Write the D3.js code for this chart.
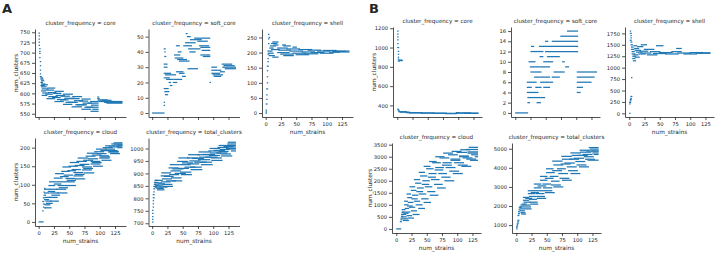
<!DOCTYPE html>
<html>
<head>
<meta charset="utf-8">
<script src="https://cdn.jsdelivr.net/npm/d3@7"></script>
<style>
  body { margin: 0; background: #fff; }
  svg { display: block; }
  text { font-family: "DejaVu Sans", sans-serif; fill: #262626; }
</style>
</head>
<body>
<svg id="chart" width="720" height="254"></svg>
<script>
// === Data: each run is [firstStrain, lastStrain, num_clusters] ===
const xTicks = [0, 25, 50, 75, 100, 125];

// --- Panel A ---
const aCoreTicks = [550, 575, 600, 625, 650, 675, 700, 725, 750];
const aCoreRuns = [
  [1,1,748],[1,1,741],[1,1,733],[1,1,726],[1,1,718],[2,2,710],[2,2,703],[2,2,698],[2,2,688],
  [3,3,678],[3,3,668],[3,3,657],[3,3,648],[3,4,641],[4,6,638],[4,7,635],[5,8,631],[4,6,627],[5,10,623],[4,9,619],
  [6,14,621],[15,26,613],[27,40,605],[41,55,598],[56,70,592],[71,84,586],[85,97,580],
  [5,12,616],[13,24,608],[25,36,600],[37,50,593],[51,66,587],[67,80,581],[81,97,576],
  [6,15,611],[16,28,602],[29,42,595],[43,58,588],[59,72,582],[73,86,576],[87,97,571],
  [5,11,606],[12,22,598],[23,35,590],[36,48,584],[49,63,578],[64,78,572],[79,97,566],
  [7,16,601],[17,30,592],[31,44,585],[45,60,578],[61,75,572],[76,88,566],[89,97,561],
  [6,13,595],[14,26,587],[27,40,580],[41,54,573],[55,70,567],[71,85,561],[86,97,556],
  [97,98,591],[97,99,587],[98,112,584],[98,108,581],[100,122,580],[108,136,578],[112,136,576],[104,118,583],[120,136,580]
];

const aSoftTicks = [0, 10, 20, 30, 40, 50];
const aSoftRuns = [
  [1,19,0],[20,20,5],[20,20,7],[20,21,42],[21,21,40],[20,24,32],[20,24,30],[21,22,37],
  [20,30,26],[22,38,25],[20,28,23],[24,34,22],[20,26,16],[21,27,14],[22,25,12],[28,30,20],[30,32,18],
  [36,48,22],[35,40,20],[37,45,38],[38,50,36],[42,56,35],[45,60,34],[40,44,44],[43,47,40],
  [40,50,27],[45,52,26],[50,54,24],[52,64,44],[55,70,46],[60,78,42],[56,57,52],[58,62,50],
  [59,74,29],[62,70,40],[63,80,48],[70,94,49],[75,90,47],[80,94,43],[82,94,41],[78,92,44],
  [80,94,38],[84,94,37],[95,95,20],[98,112,28],[98,110,26],[100,115,25],[102,112,24],[98,105,30],
  [112,118,27],[116,136,30],[118,134,31],[120,136,29],[115,130,32]
];

const aShellTicks = [0, 50, 100, 150, 200, 250];
const aShellRuns = [
  [1,1,0],[1,1,4],[1,1,10],[1,2,30],[2,2,45],[2,2,60],[2,3,80],[3,3,100],[3,3,120],[3,3,140],
  [3,4,155],[4,4,170],[4,4,180],[4,5,195],[5,5,230],[5,5,245],[5,5,260],[6,6,250],
  [4,10,205],[5,12,198],[6,14,190],[7,12,215],[8,16,222],[10,18,230],[12,20,235],[14,20,225],[10,22,210],[12,20,185],
  [20,35,215],[22,40,208],[20,38,200],[25,45,195],[30,45,190],[35,55,212],[40,60,205],[45,65,198],
  [50,70,193],[55,75,210],[60,80,202],[65,85,196],[70,90,208],[75,95,200],[85,105,205],[90,110,198],
  [95,115,207],[105,120,201],[110,130,204],[120,136,202],[115,136,205],[30,40,222],[45,50,218],[28,32,225]
];

const aCloudTicks = [0, 50, 100, 150, 200];
const aCloudRuns = [
  [1,7,0],[7,7,30],[8,8,40],[7,8,55],[8,9,65],[9,9,80],[10,10,90],[8,10,48],[9,11,72],[10,11,38],
  [10,18,88],[18,28,108],[28,40,130],[40,52,148],[52,65,160],[65,80,172],[80,95,185],[95,110,196],[110,124,205],[124,136,213],
  [10,17,78],[17,26,98],[26,38,118],[38,50,136],[50,63,150],[63,78,163],[78,92,177],[92,106,189],[106,120,200],[120,136,210],
  [11,19,66],[19,30,88],[30,42,108],[42,55,126],[55,68,141],[68,82,155],[82,96,170],[96,110,184],[110,124,196],[124,136,207],
  [12,20,56],[20,32,78],[32,45,98],[45,58,117],[58,72,133],[72,86,148],[86,100,163],[100,114,178],[114,128,192],[128,136,204],
  [11,18,46],[18,30,66],[30,44,88],[44,58,108],[58,72,124],[72,86,140],[86,100,156],[100,115,172],[115,130,188],[130,136,200],
  [12,20,38],[20,32,56],[32,46,78],[46,60,98],[60,75,116],[75,90,132],[90,104,150],[104,118,166],[118,132,184],
  [10,16,60],[16,26,82],[26,36,102],[36,48,122],[48,60,138],[60,74,152],[74,88,166],[88,102,180],[102,116,192],[116,130,202],[130,136,207],
  [13,22,50],[22,34,72],[34,47,92],[47,60,112],[60,74,128],[74,88,144],[88,102,160],[102,116,175],[116,130,190]
];

const aTotalTicks = [700, 750, 800, 850, 900, 950, 1000];
const aTotalRuns = [
  [1,1,705],[1,1,716],[1,1,727],[1,1,740],[1,1,752],[2,2,765],[2,2,778],[2,2,790],[2,3,802],[2,3,815],
  [3,3,826],[3,4,838],[3,5,848],[4,6,856],[4,8,864],[5,9,872],[5,8,845],[6,10,852],
  [6,16,872],[16,30,902],[30,44,935],[44,60,962],[60,77,975],[77,95,986],[95,110,1000],[110,125,1012],[125,136,1025],
  [5,15,862],[15,28,890],[28,42,922],[42,58,948],[58,75,962],[75,93,975],[93,108,990],[108,124,1004],[124,136,1018],
  [7,17,853],[17,31,878],[31,46,910],[46,62,935],[62,78,950],[78,96,965],[96,112,982],[112,126,996],[126,136,1012],
  [6,16,846],[16,29,866],[29,43,895],[43,59,920],[59,76,938],[76,94,955],[94,110,972],[110,124,988],[124,136,1006],
  [8,18,840],[18,32,856],[32,47,882],[47,63,905],[63,80,925],[80,97,945],[97,113,962],[113,128,978],[128,136,998],
  [9,19,834],[19,33,848],[33,48,870],[48,64,895],[64,81,915],[81,98,935],[98,114,952],[114,130,970],[130,136,990],
  [10,20,858],[20,34,888],[34,50,918],[50,66,942],[66,84,960],[84,102,976],[102,118,992],[118,132,1008],
  [12,24,845],[24,38,870],[38,54,900],[54,70,925],[70,88,945],[88,106,965],[106,122,982],[122,136,1000]
];

// --- Panel B ---
const bCoreTicks = [400, 600, 800, 1000, 1200];
const bCoreRuns = [
  [1,1,1170],[1,1,1140],[1,1,1110],[1,1,1080],[1,1,1040],[1,2,1000],[2,2,960],[2,2,930],[2,2,900],
  [2,2,880],[2,3,860],[3,7,870],[4,8,865],[1,2,360],[2,3,345],
  [3,15,335],[5,20,330],[15,40,325],[20,60,322],[40,80,320],[60,95,318],[80,97,315],
  [97,100,325],[98,120,322],[100,132,320],[110,132,318]
];

const bSoftTicks = [0, 2, 4, 6, 8, 10, 12, 14, 16];
const bSoftRuns = [
  [1,20,0],[21,23,2],[36,41,2],[21,48,3],[20,37,4],[102,106,4],[20,26,5],[34,42,5],[47,56,5],[102,110,5],
  [20,34,6],[42,61,6],[102,124,6],[32,56,7],[61,72,7],[102,129,7],[26,42,8],[64,80,8],[102,133,8],
  [25,56,9],[83,87,9],[23,32,10],[47,61,10],[78,80,10],[41,45,11],[53,72,11],[26,45,12],[50,102,12],
  [27,30,13],[40,102,13],[50,53,14],[61,102,14],[75,102,15],[86,102,16]
];

const bShellTicks = [0, 250, 500, 750, 1000, 1250, 1500, 1750];
const bShellRuns = [
  [1,1,0],[1,1,210],[1,2,240],[2,2,270],[2,3,300],[3,3,330],[3,4,370],[4,4,780],
  [2,2,1800],[2,3,1750],[3,3,1700],[3,3,1650],[2,3,1600],[3,4,1560],[3,5,1500],[4,6,1450],[4,7,1400],
  [5,8,1350],[5,9,1300],[6,10,1250],[6,9,1200],[7,10,1150],[8,12,1480],[9,15,1420],[10,18,1380],
  [12,20,1340],[8,14,1280],[10,16,1230],[14,22,1460],[16,26,1300],[18,30,1360],[20,35,1320],[25,40,1400],
  [30,45,1280],[35,50,1350],[40,60,1310],[45,55,1480],[20,28,1500],[50,70,1330],[60,80,1300],[70,85,1350],
  [78,85,1420],[80,100,1320],[90,110,1300],[100,120,1330],[110,132,1315],[115,132,1325]
];

const bCloudTicks = [0, 500, 1000, 1500, 2000, 2500, 3000, 3500];
const bCloudRuns = [
  [1,7,0],[7,8,300],[8,9,380],[8,10,450],[9,10,520],[9,11,600],[10,11,680],
  [10,14,800],[14,18,1150],[18,23,1450],[23,30,1750],[30,38,2050],[38,46,2350],[46,55,2600],[55,65,2800],[65,78,3000],[78,92,3150],[92,106,3220],[106,120,3290],[120,133,3390],
  [10,14,700],[14,19,1000],[19,25,1300],[25,32,1600],[32,40,1900],[40,50,2200],[50,60,2500],[60,72,2750],[72,86,2950],[86,100,3080],[100,115,3180],[115,133,3300],
  [11,15,600],[15,20,850],[20,27,1100],[27,35,1400],[35,44,1700],[44,54,2000],[54,65,2300],[65,77,2550],[77,90,2750],[90,104,2900],[104,118,3030],[118,133,3150],
  [11,16,500],[16,22,700],[22,30,900],[30,38,1150],[38,48,1450],[48,58,1750],[58,70,2050],[70,82,2300],[82,96,2550],[96,110,2750],[110,124,2950],[124,133,3080],
  [12,18,420],[18,25,550],[25,33,750],[33,42,1000],[42,52,1250],[52,63,1550],[63,75,1850],[75,88,2150],[88,102,2400],[102,116,2650],[116,130,2900],[130,133,3000],
  [12,20,350],[20,28,450],[28,37,600],[37,46,850],[46,56,1100],[56,68,1400],[68,80,1700],[80,94,2000],[94,108,2300],[108,122,2600],[122,133,2850],
  [13,19,650],[19,26,950],[26,34,1250],[34,43,1550],[43,53,1850],[53,64,2150],[64,76,2450],[76,90,2650],[90,104,2850],[104,118,3000],[118,133,3200]
];

const bTotalTicks = [1000, 2000, 3000, 4000, 5000];
const bTotalRuns = [
  [1,1,800],[1,1,880],[1,2,950],[2,2,1030],[2,3,1100],[3,3,1180],[3,4,1250],[3,4,1500],[4,5,1600],
  [4,5,1700],[5,6,1800],[5,7,1900],[6,8,1950],
  [8,12,2050],[12,20,2450],[20,30,2800],[30,40,3150],[40,50,3550],[50,60,3950],[60,75,4350],[75,90,4600],[90,105,4780],[105,120,4920],[120,134,5060],
  [7,12,1950],[12,20,2300],[20,30,2650],[30,40,2950],[40,50,3350],[50,62,3750],[62,76,4150],[76,92,4450],[92,106,4650],[106,122,4820],[122,134,4980],
  [8,13,1850],[13,22,2200],[22,32,2500],[32,44,2800],[44,56,3150],[56,68,3550],[68,80,3950],[80,95,4250],[95,110,4500],[110,124,4700],[124,134,4880],
  [7,13,1750],[13,22,2050],[22,33,2350],[33,45,2650],[45,58,2950],[58,70,3300],[70,84,3700],[84,98,4050],[98,112,4330],[112,126,4580],[126,134,4780],
  [8,14,1650],[14,23,1950],[23,34,2200],[34,46,2500],[46,58,2800],[58,72,3100],[72,86,3450],[86,100,3850],[100,114,4150],[114,128,4450],[128,134,4700],
  [9,15,1580],[15,24,1850],[24,35,2100],[35,48,2400],[48,62,2700],[62,76,3000],[76,90,3350],[90,104,3700],[104,118,4050],[118,134,4400],
  [10,16,2100],[16,25,2400],[25,36,2700],[36,48,3050],[48,60,3450],[60,74,3850],[74,88,4200],[88,102,4450],[102,116,4650],[116,134,4880]
];

// === Layout of the facets ===
const facets = [
  { name: "core",           runs: aCoreRuns,  ticks: aCoreTicks,  yDomain: [542, 758],   left: 35,  top: 29,  w: 91, h: 88, xDomain: [-6, 143], xLabels: false, yLabel: -19 },
  { name: "soft_core",      runs: aSoftRuns,  ticks: aSoftTicks,  yDomain: [-2.6, 55],   left: 148.5, top: 29, w: 91, h: 88, xDomain: [-6, 143], xLabels: false, yLabel: 0 },
  { name: "shell",          runs: aShellRuns, ticks: aShellTicks, yDomain: [-13, 278],   left: 262, top: 29,  w: 91, h: 88, xDomain: [-6, 143], xLabels: true,  yLabel: 0 },
  { name: "cloud",          runs: aCloudRuns, ticks: aCloudTicks, yDomain: [-11, 226],   left: 35,  top: 138, w: 91, h: 88, xDomain: [-6, 143], xLabels: true,  yLabel: -19 },
  { name: "total_clusters", runs: aTotalRuns, ticks: aTotalTicks, yDomain: [689, 1042],  left: 148.5, top: 138, w: 91, h: 88, xDomain: [-6, 143], xLabels: true, yLabel: 0 },

  { name: "core",           runs: bCoreRuns,  ticks: bCoreTicks,  yDomain: [280, 1213],  left: 393, top: 27,  w: 89, h: 90, xDomain: [-7, 139], xLabels: false, yLabel: -19 },
  { name: "soft_core",      runs: bSoftRuns,  ticks: bSoftTicks,  yDomain: [-0.8, 16.8], left: 511, top: 27,  w: 89, h: 90, xDomain: [-7, 139], xLabels: false, yLabel: 0 },
  { name: "shell",          runs: bShellRuns, ticks: bShellTicks, yDomain: [-80, 1890],  left: 625, top: 27,  w: 89, h: 90, xDomain: [-7, 139], xLabels: true,  yLabel: 0 },
  { name: "cloud",          runs: bCloudRuns, ticks: bCloudTicks, yDomain: [-170, 3570], left: 392, top: 143, w: 89, h: 90, xDomain: [-7, 139], xLabels: true,  yLabel: -22 },
  { name: "total_clusters", runs: bTotalRuns, ticks: bTotalTicks, yDomain: [586, 5300],  left: 512, top: 143, w: 89, h: 90, xDomain: [-7, 139], xLabels: true,  yLabel: 0 }
];

const svg = d3.select("#chart");
svg.append("rect").attr("width", 720).attr("height", 254).attr("fill", "#fff");

const dotColor = "#1f77b4";
const inkColor = "#262626";

function drawFacet(f) {
  const g = svg.append("g").attr("transform", `translate(${f.left},${f.top})`);

  const x = d3.scaleLinear().domain(f.xDomain).range([0, f.w]);
  const y = d3.scaleLinear().domain(f.yDomain).range([f.h, 0]);

  // punkter: en streckad rad per följd av stammar med samma värde
  g.selectAll("line.run")
    .data(f.runs)
    .enter()
    .append("line")
    .attr("class", "run")
    .attr("x1", d => x(d[0]) - 0.7)
    .attr("x2", d => x(d[1]) + 0.7)
    .attr("y1", d => y(d[2]))
    .attr("y2", d => y(d[2]))
    .attr("stroke", dotColor)
    .attr("stroke-width", 1.25);

  // Y-axel
  const yAxis = g.append("g")
    .call(d3.axisLeft(y).tickValues(f.ticks).tickSize(3).tickSizeOuter(0).tickPadding(2).tickFormat(d3.format("d")));

  // X-axel
  const xAxis = g.append("g")
    .attr("transform", `translate(0,${f.h})`)
    .call(d3.axisBottom(x).tickValues(xTicks).tickSize(3).tickSizeOuter(0).tickPadding(2)
      .tickFormat(f.xLabels ? d3.format("d") : () => ""));

  [yAxis, xAxis].forEach(a => {
    a.attr("font-family", null).attr("font-size", null);
    a.select(".domain").attr("stroke", inkColor).attr("stroke-width", 0.8);
    a.selectAll(".tick line").attr("stroke", inkColor).attr("stroke-width", 0.8);
    a.selectAll(".tick text").attr("font-size", 5.2).attr("fill", inkColor);
  });

  // Titel
  g.append("text")
    .attr("x", f.w / 2)
    .attr("y", -4.5)
    .attr("text-anchor", "middle")
    .attr("font-size", 5.6)
    .text(`cluster_frequency = ${f.name}`);

  if (f.xLabels) {
    g.append("text")
      .attr("x", f.w / 2)
      .attr("y", f.h + 16.5)
      .attr("text-anchor", "middle")
      .attr("font-size", 5.8)
      .text("num_strains");
  }

  if (f.yLabel) {
    g.append("text")
      .attr("transform", `translate(${f.yLabel},${f.h / 2}) rotate(-90)`)
      .attr("text-anchor", "middle")
      .attr("dy", "0.35em")
      .attr("font-size", 5.8)
      .text("num_clusters");
  }
}

facets.forEach(drawFacet);

// Panelbokstäver
svg.append("text").attr("x", 2).attr("y", 13).attr("font-size", 13).attr("font-weight", "bold").text("A");
svg.append("text").attr("x", 369).attr("y", 13).attr("font-size", 13).attr("font-weight", "bold").text("B");
</script>
</body>
</html>
